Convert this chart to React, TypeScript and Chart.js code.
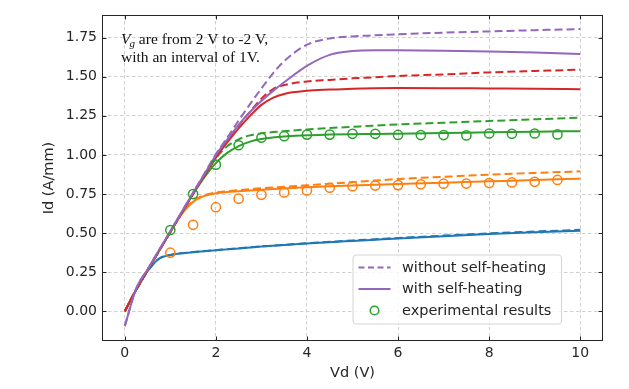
import React, { useEffect, useRef } from "react";
import { Chart, registerables } from "chart.js";

Chart.register(...registerables);

// ---- data ----
const vd = [0, 0.25, 0.5, 0.75, 1, 1.25, 1.5, 1.75, 2, 2.25, 2.5, 2.75, 3, 3.25, 3.5, 4, 4.5, 5, 5.5, 6, 7, 8, 9, 10];

const vg2NoSH = [-0.095, 0.145, 0.268, 0.39, 0.512, 0.637, 0.76, 0.882, 1.005, 1.11, 1.22, 1.325, 1.425, 1.52, 1.6, 1.705, 1.745, 1.758, 1.765, 1.772, 1.782, 1.79, 1.798, 1.805];
const vg2SH = [-0.095, 0.145, 0.268, 0.39, 0.512, 0.635, 0.757, 0.878, 0.998, 1.098, 1.193, 1.275, 1.345, 1.408, 1.465, 1.57, 1.64, 1.664, 1.669, 1.669, 1.667, 1.662, 1.655, 1.645];
const vg1NoSH = [0, 0.138, 0.262, 0.385, 0.507, 0.63, 0.752, 0.873, 0.993, 1.093, 1.188, 1.275, 1.36, 1.42, 1.447, 1.47, 1.48, 1.49, 1.497, 1.505, 1.515, 1.528, 1.537, 1.545];
const vg1SH = [0, 0.138, 0.262, 0.385, 0.507, 0.63, 0.752, 0.868, 0.983, 1.08, 1.17, 1.25, 1.32, 1.365, 1.39, 1.41, 1.418, 1.424, 1.427, 1.428, 1.427, 1.425, 1.423, 1.42];
const vg0NoSH = [0, 0.138, 0.262, 0.385, 0.507, 0.63, 0.752, 0.868, 0.978, 1.055, 1.1, 1.125, 1.138, 1.146, 1.152, 1.163, 1.172, 1.18, 1.188, 1.195, 1.206, 1.217, 1.228, 1.238];
const vg0SH = [0, 0.138, 0.262, 0.385, 0.507, 0.628, 0.75, 0.858, 0.948, 1.013, 1.056, 1.085, 1.102, 1.112, 1.118, 1.126, 1.13, 1.133, 1.134, 1.136, 1.14, 1.145, 1.149, 1.152];
const vgm1NoSH = [0, 0.138, 0.262, 0.385, 0.507, 0.625, 0.705, 0.743, 0.76, 0.768, 0.775, 0.781, 0.787, 0.792, 0.797, 0.806, 0.816, 0.826, 0.836, 0.846, 0.86, 0.874, 0.885, 0.895];
const vgm1SH = [0, 0.138, 0.262, 0.385, 0.507, 0.622, 0.7, 0.738, 0.755, 0.763, 0.768, 0.773, 0.778, 0.782, 0.786, 0.794, 0.8, 0.805, 0.81, 0.814, 0.822, 0.831, 0.84, 0.848];
const vgm2NoSH = [0, 0.137, 0.256, 0.336, 0.36, 0.371, 0.379, 0.385, 0.391, 0.397, 0.403, 0.409, 0.415, 0.42, 0.425, 0.435, 0.444, 0.453, 0.461, 0.469, 0.484, 0.498, 0.51, 0.521];
const vgm2SH = [0, 0.137, 0.256, 0.336, 0.36, 0.371, 0.378, 0.384, 0.39, 0.396, 0.402, 0.408, 0.414, 0.419, 0.424, 0.433, 0.442, 0.45, 0.458, 0.466, 0.48, 0.494, 0.505, 0.515];

const vdExp = [1, 1.5, 2, 2.5, 3, 3.5, 4, 4.5, 5, 5.5, 6, 6.5, 7, 7.5, 8, 8.5, 9, 9.5];
const expVg0 = [0.52, 0.75, 0.938, 1.062, 1.11, 1.12, 1.13, 1.13, 1.135, 1.135, 1.128, 1.127, 1.127, 1.125, 1.137, 1.135, 1.137, 1.131];
const expVgm1 = [0.375, 0.553, 0.666, 0.72, 0.745, 0.76, 0.773, 0.79, 0.8, 0.804, 0.807, 0.812, 0.816, 0.817, 0.82, 0.824, 0.828, 0.84];

const xTicks = [0, 2, 4, 6, 8, 10];
const yTicks = [0, 0.25, 0.5, 0.75, 1.0, 1.25, 1.5, 1.75];

const legendLabels = ["without self-heating", "with self-heating", "experimental results"];
const noteLine1 = ["V", "g", " are from 2 V to -2 V,"];
const noteLine2 = "with an interval of 1V.";

// ---- styles ----
const C = {
  blue: "#1f77b4",
  orange: "#ff7f0e",
  green: "#2ca02c",
  red: "#d62728",
  purple: "#9467bd",
};
const TEXT = "#262626";
const SANS = '"DejaVu Sans", sans-serif';
const SERIF = '"Liberation Serif", "Times New Roman", serif';
const DASH = [8, 4];

const pts = (xs: number[], ys: number[]) => xs.map((x, i) => ({ x, y: ys[i] }));

const lineDs = (ys: number[], color: string, dashed: boolean) => ({
  type: "line" as const,
  data: pts(vd, ys),
  borderColor: color,
  backgroundColor: color,
  borderWidth: 2,
  borderDash: dashed ? DASH : [],
  pointRadius: 0,
  cubicInterpolationMode: "monotone" as const,
  fill: false,
});

const expDs = (ys: number[], color: string) => ({
  type: "line" as const,
  data: pts(vdExp, ys),
  showLine: false,
  borderColor: color,
  backgroundColor: "rgba(0,0,0,0)",
  pointRadius: 4.6,
  pointBorderWidth: 1.5,
  pointStyle: "circle" as const,
});

const framePlugin = {
  id: "frame",
  afterDatasetsDraw(chart: any) {
    const { ctx, chartArea } = chart;
    const { left, top, right, bottom } = chartArea;
    const xs = chart.scales.x;
    const ys = chart.scales.y;
    ctx.save();
    ctx.strokeStyle = TEXT;
    ctx.lineWidth = 1;
    ctx.strokeRect(left + 0.5, top + 0.5, right - left - 1, bottom - top - 1);
    const L = 4.5;
    ctx.beginPath();
    xTicks.forEach((v) => {
      const px = Math.round(xs.getPixelForValue(v)) + 0.5;
      ctx.moveTo(px, bottom);
      ctx.lineTo(px, bottom - L);
      ctx.moveTo(px, top);
      ctx.lineTo(px, top + L);
    });
    yTicks.forEach((v) => {
      const py = Math.round(ys.getPixelForValue(v)) + 0.5;
      ctx.moveTo(left, py);
      ctx.lineTo(left + L, py);
      ctx.moveTo(right, py);
      ctx.lineTo(right - L, py);
    });
    ctx.stroke();
    ctx.restore();
  },
};

const overlayPlugin = {
  id: "overlay",
  afterDraw(chart: any) {
    const { ctx, chartArea } = chart;
    const { left, top, right, bottom } = chartArea;
    ctx.save();
    // annotation text
    const x0 = left + 19;
    const b1 = top + 28.5;
    const b2 = top + 47;
    ctx.fillStyle = "#111";
    ctx.textBaseline = "alphabetic";
    ctx.textAlign = "left";
    ctx.font = `italic 15.5px ${SERIF}`;
    ctx.fillText(noteLine1[0], x0, b1);
    let cx = x0 + ctx.measureText(noteLine1[0]).width - 1;
    ctx.font = `italic 11px ${SERIF}`;
    ctx.fillText(noteLine1[1], cx, b1 + 3.5);
    cx += ctx.measureText(noteLine1[1]).width;
    ctx.font = `15.5px ${SERIF}`;
    ctx.fillText(noteLine1[2], cx, b1);
    ctx.fillText(noteLine2, x0, b2);

    // legend
    const bx1 = right - 41.5;
    const bx0 = left + 251;
    const by1 = bottom - 17;
    const by0 = bottom - 86;
    const r = 3;
    ctx.beginPath();
    ctx.moveTo(bx0 + r, by0);
    ctx.lineTo(bx1 - r, by0);
    ctx.quadraticCurveTo(bx1, by0, bx1, by0 + r);
    ctx.lineTo(bx1, by1 - r);
    ctx.quadraticCurveTo(bx1, by1, bx1 - r, by1);
    ctx.lineTo(bx0 + r, by1);
    ctx.quadraticCurveTo(bx0, by1, bx0, by1 - r);
    ctx.lineTo(bx0, by0 + r);
    ctx.quadraticCurveTo(bx0, by0, bx0 + r, by0);
    ctx.closePath();
    ctx.fillStyle = "rgba(255,255,255,0.8)";
    ctx.fill();
    ctx.strokeStyle = "#d4d4d4";
    ctx.lineWidth = 1;
    ctx.stroke();

    const hx0 = bx0 + 5.5;
    const hx1 = hx0 + 32;
    const tx = hx1 + 11.5;
    const rows = [by0 + 12.5, by0 + 34, by0 + 55.5];
    ctx.lineWidth = 2;
    ctx.strokeStyle = C.purple;
    ctx.setLineDash([6, 3.5]);
    ctx.beginPath();
    ctx.moveTo(hx0, rows[0]);
    ctx.lineTo(hx1, rows[0]);
    ctx.stroke();
    ctx.setLineDash([]);
    ctx.beginPath();
    ctx.moveTo(hx0, rows[1]);
    ctx.lineTo(hx1, rows[1]);
    ctx.stroke();
    ctx.lineWidth = 1.5;
    ctx.strokeStyle = C.green;
    ctx.beginPath();
    ctx.arc((hx0 + hx1) / 2, rows[2], 4.3, 0, Math.PI * 2);
    ctx.stroke();

    ctx.fillStyle = TEXT;
    ctx.font = `14.5px ${SANS}`;
    ctx.textBaseline = "middle";
    legendLabels.forEach((t, i) => ctx.fillText(t, tx, rows[i] + 0.5));
    ctx.restore();
  },
};

export default function App() {
  const ref = useRef<HTMLCanvasElement | null>(null);
  useEffect(() => {
    document.body.style.margin = "0";
    if (!ref.current) return;
    const chart = new Chart(ref.current, {
      type: "line",
      data: {
        datasets: [
          expDs(expVg0, C.green),
          expDs(expVgm1, C.orange),
          lineDs(vg2NoSH, C.purple, true),
          lineDs(vg2SH, C.purple, false),
          lineDs(vg1NoSH, C.red, true),
          lineDs(vg1SH, C.red, false),
          lineDs(vg0NoSH, C.green, true),
          lineDs(vg0SH, C.green, false),
          lineDs(vgm1NoSH, C.orange, true),
          lineDs(vgm1SH, C.orange, false),
          lineDs(vgm2NoSH, C.blue, true),
          lineDs(vgm2SH, C.blue, false),
        ] as any,
      },
      options: {
        animation: false,
        responsive: false,
        maintainAspectRatio: false,
        events: [],
        layout: { padding: { left: 0, top: 15, right: 26, bottom: 0 } },
        plugins: { legend: { display: false }, tooltip: { enabled: false } },
        scales: {
          x: {
            type: "linear",
            min: -0.5,
            max: 10.5,
            afterBuildTicks: (s: any) => {
              s.ticks = xTicks.map((v) => ({ value: v }));
            },
            afterFit: (s: any) => {
              s.height = 48;
            },
            ticks: {
              color: TEXT,
              font: { family: SANS, size: 14 },
              padding: 4,
              maxRotation: 0,
              callback: (v: any) => String(v),
            },
            grid: { color: "#d0d0d0", lineWidth: 1, drawTicks: false },
            border: { display: false, dash: [3.5, 2.5] },
            title: {
              display: true,
              text: "Vd (V)",
              color: TEXT,
              font: { family: SANS, size: 14.5 },
              padding: { top: 0, bottom: 7.3 },
            },
          },
          y: {
            type: "linear",
            min: -0.19,
            max: 1.895,
            afterBuildTicks: (s: any) => {
              s.ticks = yTicks.map((v) => ({ value: v }));
            },
            afterFit: (s: any) => {
              s.width = 102;
            },
            ticks: {
              color: TEXT,
              font: { family: SANS, size: 14 },
              padding: 5,
              callback: (v: any) => Number(v).toFixed(2),
            },
            grid: { color: "#d0d0d0", lineWidth: 1, drawTicks: false },
            border: { display: false, dash: [3.5, 2.5] },
            title: {
              display: true,
              text: "Id (A/mm)",
              color: TEXT,
              font: { family: SANS, size: 14.5 },
              padding: { top: 40.8, bottom: 0 },
            },
          },
        },
      },
      plugins: [framePlugin, overlayPlugin],
    } as any);
    return () => chart.destroy();
  }, []);
  return (
    <div style={{ width: 629, height: 389, background: "#fff" }}>
      <canvas ref={ref} width={629} height={389} style={{ display: "block", width: 629, height: 389 }} />
    </div>
  );
}
